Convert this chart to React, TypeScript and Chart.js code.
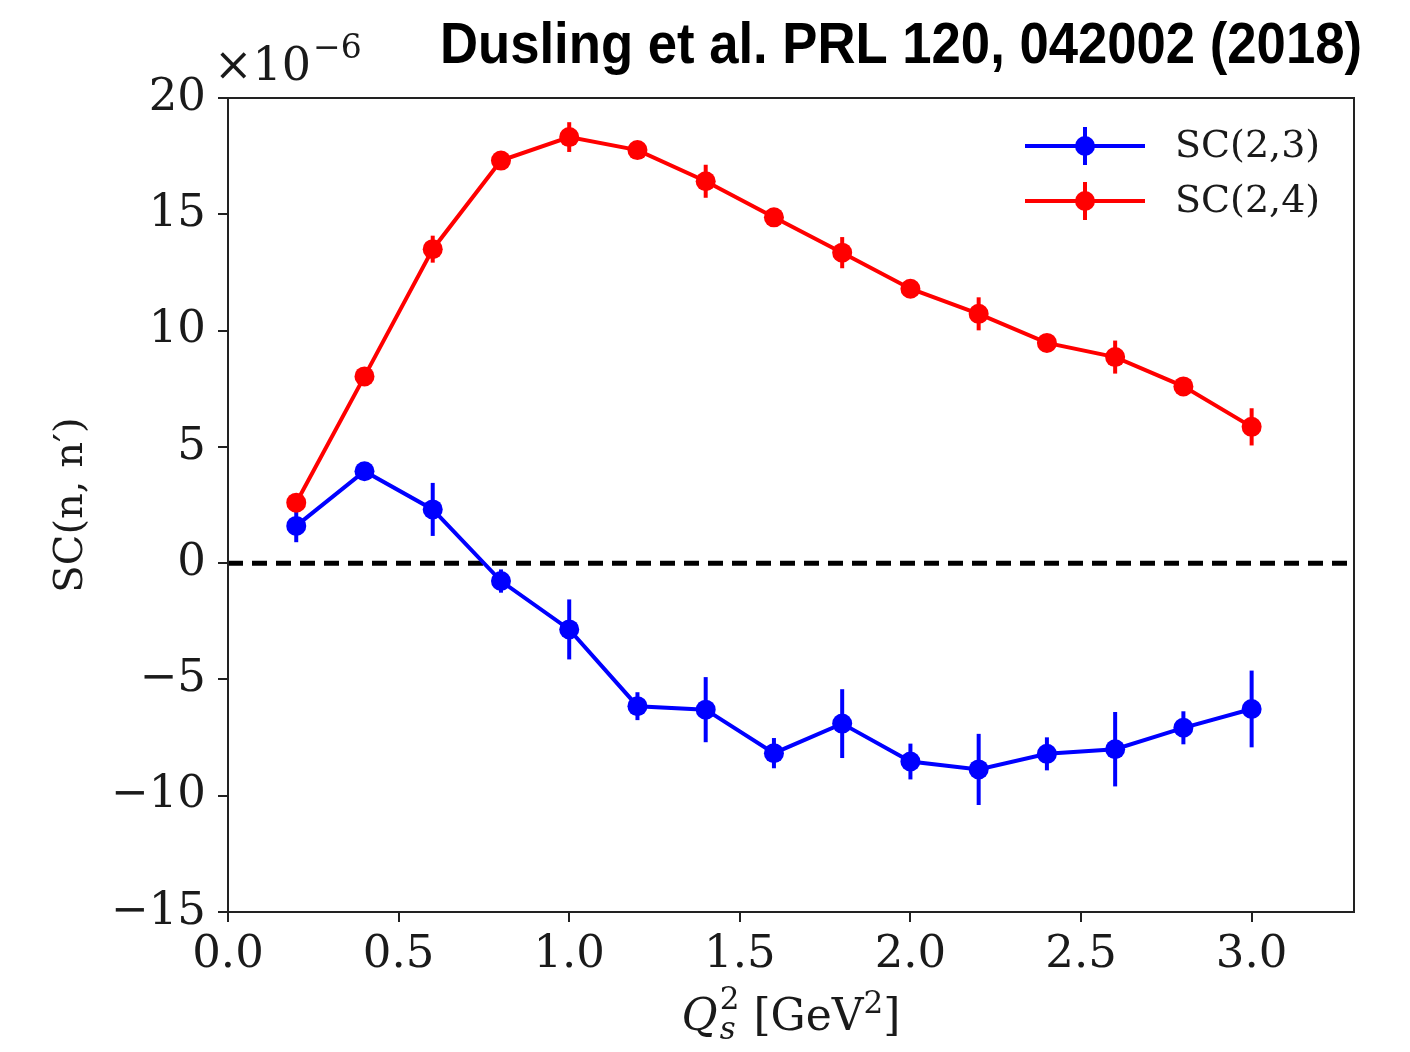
import React, { useEffect, useRef } from 'react';
import { Chart, registerables } from 'chart.js';

Chart.register(...registerables);

// ---- data ----
const Q2 = [0.2, 0.4, 0.6, 0.8, 1.0, 1.2, 1.4, 1.6, 1.8, 2.0, 2.2, 2.4, 2.6, 2.8, 3.0];
const SC23 = [1.6, 3.95, 2.31, -0.77, -2.85, -6.15, -6.3, -8.17, -6.9, -8.53, -8.87, -8.2, -8.0, -7.08, -6.27];
const SC23_ERR = [0.7, 0.35, 1.14, 0.5, 1.29, 0.6, 1.4, 0.65, 1.48, 0.77, 1.53, 0.71, 1.6, 0.71, 1.65];
const SC24 = [2.6, 8.03, 13.5, 17.31, 18.32, 17.76, 16.42, 14.87, 13.35, 11.8, 10.72, 9.47, 8.86, 7.6, 5.86];
const SC24_ERR = [0.3, 0.3, 0.58, 0.3, 0.64, 0.35, 0.71, 0.35, 0.67, 0.35, 0.71, 0.35, 0.71, 0.35, 0.8];
const SERIES_NAMES = ['SC(2,3)', 'SC(2,4)'];
const SERIES_COLORS = ['#0000ff', '#ff0000'];
const X_TICKS = [0.0, 0.5, 1.0, 1.5, 2.0, 2.5, 3.0];
const Y_TICKS = [-15, -10, -5, 0, 5, 10, 15, 20];
const X_RANGE = [0, 3.3];
const Y_RANGE = [-15, 20];
const TITLE = 'Dusling et al. PRL 120, 042002 (2018)';
const Y_LABEL = 'SC(n, n\u2032)';

const SERIF = '"DejaVu Serif", serif';
const TEXT_COLOR = '#1a1a1a';

const errorBarsPlugin = {
  id: 'errorBars',
  beforeDatasetsDraw(chart: any) {
    const { ctx, chartArea, scales } = chart;
    const y0 = scales.y.getPixelForValue(0);
    ctx.save();
    ctx.strokeStyle = '#000';
    ctx.lineWidth = 5;
    ctx.setLineDash([15, 9]);
    ctx.beginPath();
    ctx.moveTo(chartArea.left, y0);
    ctx.lineTo(chartArea.right, y0);
    ctx.stroke();
    ctx.setLineDash([]);
    const errs = [SC23_ERR, SC24_ERR];
    chart.data.datasets.forEach((ds: any, di: number) => {
      ctx.strokeStyle = SERIES_COLORS[di];
      ctx.lineWidth = 4;
      ds.data.forEach((p: any, i: number) => {
        const x = scales.x.getPixelForValue(p.x);
        const yt = scales.y.getPixelForValue(p.y + errs[di][i]);
        const yb = scales.y.getPixelForValue(p.y - errs[di][i]);
        ctx.beginPath();
        ctx.moveTo(x, yt);
        ctx.lineTo(x, yb);
        ctx.stroke();
      });
    });
    ctx.restore();
  },
};

const decorPlugin = {
  id: 'decor',
  afterDraw(chart: any) {
    const { ctx, chartArea } = chart;
    const { left, right, top, bottom } = chartArea;
    ctx.save();
    // frame
    ctx.strokeStyle = '#222';
    ctx.lineWidth = 2;
    ctx.strokeRect(left, top, right - left, bottom - top);

    // title
    ctx.fillStyle = '#000';
    ctx.font = 'bold 58px "Liberation Sans", Arial, sans-serif';
    ctx.textAlign = 'right';
    ctx.textBaseline = 'alphabetic';
    ctx.fillText(TITLE, 1362, 63, 922);

    // x10^-6
    ctx.fillStyle = TEXT_COLOR;
    ctx.textAlign = 'left';
    ctx.font = `46px ${SERIF}`;
    ctx.fillText('\u00d710', 214, 80);
    const w = ctx.measureText('\u00d710').width;
    ctx.font = `33px ${SERIF}`;
    ctx.fillText('\u22126', 214 + w + 2, 58);

    // y label
    ctx.save();
    ctx.translate(72, (top + bottom) / 2);
    ctx.rotate(-Math.PI / 2);
    ctx.textAlign = 'center';
    ctx.textBaseline = 'middle';
    ctx.font = `40px ${SERIF}`;
    ctx.fillText(Y_LABEL, 0, 0);
    ctx.restore();

    // x label: Q_s^2 [GeV^2]
    const big = `44px ${SERIF}`;
    const bigIt = `italic 44px ${SERIF}`;
    const small = `31px ${SERIF}`;
    const smallIt = `italic 31px ${SERIF}`;
    const base = 1030;
    ctx.font = bigIt; const wQ = ctx.measureText('Q').width;
    ctx.font = small; const w2 = ctx.measureText('2').width;
    ctx.font = big; const wG = ctx.measureText(' [GeV').width;
    const wB = ctx.measureText(']').width;
    const total = wQ + 2 + w2 + wG + w2 + wB;
    let x = (left + right) / 2 - total / 2;
    ctx.textAlign = 'left';
    ctx.font = bigIt; ctx.fillText('Q', x, base); x += wQ + 2;
    ctx.font = small; ctx.fillText('2', x, base - 21);
    ctx.font = smallIt; ctx.fillText('s', x, base + 9);
    x += w2;
    ctx.font = big; ctx.fillText(' [GeV', x, base); x += wG;
    ctx.font = small; ctx.fillText('2', x, base - 17); x += w2;
    ctx.font = big; ctx.fillText(']', x, base);

    // legend
    const rows = [146, 201];
    rows.forEach((yy, i) => {
      ctx.strokeStyle = SERIES_COLORS[i];
      ctx.lineWidth = 4;
      ctx.beginPath();
      ctx.moveTo(1025, yy); ctx.lineTo(1145, yy);
      ctx.moveTo(1085, yy - 19); ctx.lineTo(1085, yy + 19);
      ctx.stroke();
      ctx.fillStyle = SERIES_COLORS[i];
      ctx.beginPath();
      ctx.arc(1085, yy, 10, 0, Math.PI * 2);
      ctx.fill();
      ctx.fillStyle = TEXT_COLOR;
      ctx.font = `38px ${SERIF}`;
      ctx.textBaseline = 'middle';
      ctx.fillText(SERIES_NAMES[i], 1175, yy + 1);
    });
    ctx.restore();
  },
};

export default function App() {
  const ref = useRef<HTMLCanvasElement | null>(null);
  useEffect(() => {
    if (!ref.current) return;
    const mk = (ys: number[]) => Q2.map((x, i) => ({ x, y: ys[i] }));
    const chart = new Chart(ref.current, {
      type: 'scatter',
      data: {
        datasets: [SC23, SC24].map((ys, i) => ({
          label: SERIES_NAMES[i],
          data: mk(ys),
          showLine: true,
          borderColor: SERIES_COLORS[i],
          backgroundColor: SERIES_COLORS[i],
          borderWidth: 4,
          pointRadius: 10,
          pointBorderWidth: 0,
          pointBackgroundColor: SERIES_COLORS[i],
          clip: false as any,
        })),
      },
      options: {
        animation: false,
        responsive: false,
        devicePixelRatio: 1,
        layout: { padding: { left: 0, right: 56, top: 98, bottom: 0 } },
        plugins: { legend: { display: false }, tooltip: { enabled: false }, title: { display: false } },
        scales: {
          x: {
            type: 'linear',
            min: X_RANGE[0],
            max: X_RANGE[1],
            afterBuildTicks: (s: any) => { s.ticks = X_TICKS.map((v) => ({ value: v })); },
            afterFit: (s: any) => { s.height = 140; },
            border: { display: false },
            grid: { display: true, drawOnChartArea: false, drawTicks: true, tickLength: 10, color: '#222', lineWidth: 2 },
            ticks: {
              padding: 6,
              color: TEXT_COLOR,
              font: { family: '"DejaVu Serif", serif', size: 45 },
              callback: (v: any) => Number(v).toFixed(1),
              maxRotation: 0,
            },
          },
          y: {
            type: 'linear',
            min: Y_RANGE[0],
            max: Y_RANGE[1],
            afterBuildTicks: (s: any) => { s.ticks = Y_TICKS.map((v) => ({ value: v })); },
            afterFit: (s: any) => { s.width = 228; },
            border: { display: false },
            grid: { display: true, drawOnChartArea: false, drawTicks: true, tickLength: 10, color: '#222', lineWidth: 2 },
            ticks: {
              padding: 12,
              color: TEXT_COLOR,
              font: { family: '"DejaVu Serif", serif', size: 45 },
              callback: (v: any) => (Number(v) < 0 ? '\u2212' + Math.abs(Number(v)) : String(v)),
            },
          },
        },
      },
      plugins: [errorBarsPlugin, decorPlugin],
    } as any);
    return () => chart.destroy();
  }, []);
  return (
    <div style={{ position: 'absolute', left: 0, top: 0, width: 1410, height: 1052, background: '#fff' }}>
      <canvas ref={ref} width={1410} height={1052} style={{ width: 1410, height: 1052 }} />
    </div>
  );
}
